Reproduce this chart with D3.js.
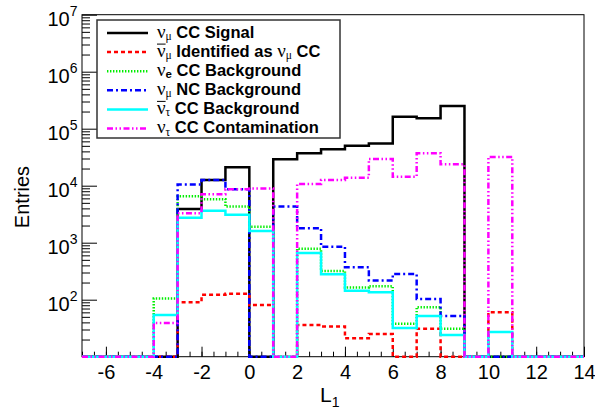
<!DOCTYPE html>
<html>
<head>
<meta charset="utf-8">
<script src="https://cdn.jsdelivr.net/npm/d3@7"></script>
<style>
  body { margin: 0; background: #fff; }
  svg { display: block; }
  text { font-family: "Liberation Sans", Arial, Helvetica, sans-serif; fill: #000; }
</style>
</head>
<body>
<svg id="chart" width="595" height="408"></svg>
<script>
// Histogram binning: 21 bins of width 1 covering L1 in [-7, 14]
const binEdges = d3.range(-7, 15, 1);

// Entries per bin (bins -7..-6, -6..-5, ..., 13..14)
const numuCCSignal   = [0, 0, 0, 0, 3900, 12600, 21000, 0, 29000, 37000, 43500, 50000, 55000, 162000, 153000, 250000, 0, 0, 0, 0, 0];
const numubarAsNumu  = [0, 0, 0, 0, 90, 122, 127, 81, 0, 36, 34, 21, 25, 0, 31, 0, 0, 60, 0, 0, 0];
const nueCCBkg       = [0, 0, 0, 105, 6500, 5800, 4300, 1900, 0, 780, 320, 163, 172, 38, 74, 31, 0, 0, 0, 0, 0];
const numuNCBkg      = [0, 0, 0, 0, 10500, 12600, 8700, 0, 4300, 1800, 850, 370, 218, 283, 103, 52, 0, 0, 0, 0, 0];
const nutaubarCCBkg  = [0, 0, 0, 54, 2750, 3650, 3100, 1600, 0, 660, 280, 144, 135, 32, 52, 24, 0, 27, 0, 0, 0];
const nutauCCContam  = [0, 0, 0, 39, 3300, 7100, 8700, 8900, 0, 10700, 12600, 13800, 29500, 14400, 37000, 23700, 0, 32000, 0, 0, 0];

// Axis ticks
const xMajorTicks = d3.range(-6, 14.01, 2);
const xMinorTicks = d3.range(-7, 14.01, 0.5);
const yDecades = [1e1, 1e2, 1e3, 1e4, 1e5, 1e6, 1e7];
const yLabelExponents = [2, 3, 4, 5, 6, 7];

// Legend labels: neutrino (bar or not), flavour subscript, description
const legendLabels = [
  { bar: false, sub: "\u03bc", text: " CC Signal" },
  { bar: true,  sub: "\u03bc", text: " Identified as ", tail: true },
  { bar: false, sub: "e",      text: " CC Background", latinSub: true },
  { bar: false, sub: "\u03bc", text: " NC Background" },
  { bar: true,  sub: "\u03c4", text: " CC Background" },
  { bar: false, sub: "\u03c4", text: " CC Contamination" }
];

const seriesValues = [numuCCSignal, numubarAsNumu, nueCCBkg, numuNCBkg, nutaubarCCBkg, nutauCCContam];
const seriesColors = ["#000000", "#ff0000", "#00ee00", "#0000ff", "#00ffff", "#ff00ff"];
const seriesDash   = [null, "4,3", "1.4,1.6", "6,3,2,3", null, "6,2.5,1.5,2.5,1.5,2.5"];

const svg = d3.select("#chart");
const padL = 82, padR = 584, padT = 14.7, padB = 356.7;

const x = d3.scaleLinear().domain([-7, 14]).range([padL, padR]);
const yMin = 10, yMax = 1e7;
const y = d3.scaleLog().domain([yMin, yMax]).range([padB, padT]);
const yv = v => y(Math.max(v, yMin));

// Frame
svg.append("rect")
  .attr("x", padL).attr("y", padT)
  .attr("width", padR - padL).attr("height", padB - padT)
  .attr("fill", "none").attr("stroke", "#000").attr("stroke-width", 1);

// X axis: minor and major ticks point inward
const xMinorAxis = d3.axisBottom(x).tickValues(xMinorTicks).tickSizeInner(-5).tickSizeOuter(0).tickFormat("");
const xMajorAxis = d3.axisBottom(x).tickValues(xMajorTicks).tickSizeInner(-10).tickSizeOuter(0).tickPadding(14)
  .tickFormat(d3.format("d"));
const gxMinor = svg.append("g").attr("transform", `translate(0,${padB})`).call(xMinorAxis);
const gxMajor = svg.append("g").attr("transform", `translate(0,${padB})`).call(xMajorAxis);
[gxMinor, gxMajor].forEach(g => {
  g.select(".domain").remove();
  g.selectAll(".tick line").attr("stroke", "#000").attr("stroke-width", 1);
});
gxMajor.selectAll(".tick text")
  .attr("font-size", 20).attr("font-family", "Liberation Sans, Arial, sans-serif")
  .attr("fill", "#000").attr("dy", null).attr("y", 22.8)
  .text(d => d < 0 ? "-" + Math.abs(d) : d);

// Y axis: log ticks, 2..9 per decade as minors
const yMinor = [];
yDecades.slice(0, -1).forEach(dec => { for (let m = 2; m <= 9; m++) yMinor.push(dec * m); });
const yMinorAxis = d3.axisLeft(y).tickValues(yMinor).tickSizeInner(-8).tickSizeOuter(0).tickFormat("");
const yMajorAxis = d3.axisLeft(y).tickValues(yDecades).tickSizeInner(-15).tickSizeOuter(0).tickFormat("");
const gyMinor = svg.append("g").attr("transform", `translate(${padL},0)`).call(yMinorAxis);
const gyMajor = svg.append("g").attr("transform", `translate(${padL},0)`).call(yMajorAxis);
[gyMinor, gyMajor].forEach(g => {
  g.select(".domain").remove();
  g.selectAll(".tick line").attr("stroke", "#000").attr("stroke-width", 1);
});

// Histograms drawn as step outlines, over the axes
const step = d3.line()
  .x(d => x(d[0]))
  .y(d => yv(d[1]))
  .curve(d3.curveStepAfter);

const plot = svg.append("g");
seriesValues.forEach((vals, i) => {
  const pts = vals.map((v, k) => [binEdges[k], v]);
  pts.push([binEdges[vals.length], vals[vals.length - 1]]);
  plot.append("path")
    .attr("d", step(pts))
    .attr("fill", "none")
    .attr("stroke", seriesColors[i])
    .attr("stroke-width", 2.5)
    .attr("stroke-dasharray", seriesDash[i])
    .attr("stroke-linejoin", "miter");
});

// Power-of-ten labels
const yLab = svg.append("g");
yLabelExponents.forEach(e => {
  const t = yLab.append("text")
    .attr("x", 77.5).attr("y", y(Math.pow(10, e)) + 11)
    .attr("text-anchor", "end").attr("font-size", 20);
  t.append("tspan").text("10");
  t.append("tspan").attr("font-size", 14).attr("dy", -9.5).text(e);
});

// Axis titles
svg.append("text")
  .attr("transform", "translate(28.5,197) rotate(-90)")
  .attr("text-anchor", "middle").attr("font-size", 20).text("Entries");

const xt = svg.append("text").attr("x", 320).attr("y", 401.5).attr("font-size", 21);
xt.append("tspan").text("L");
xt.append("tspan").attr("font-size", 14).attr("dy", 5).text("1");

// Legend box
const lg = svg.append("g");
lg.append("rect")
  .attr("x", 97).attr("y", 20).attr("width", 243).attr("height", 118)
  .attr("fill", "#fff").attr("stroke", "#333").attr("stroke-width", 1.5);

legendLabels.forEach((L, i) => {
  const base = 37.5 + i * 19.1;
  lg.append("line")
    .attr("x1", 107).attr("x2", 148).attr("y1", base - 4.5).attr("y2", base - 4.5)
    .attr("stroke", seriesColors[i]).attr("stroke-width", 2.5)
    .attr("stroke-dasharray", seriesDash[i]);

  const t = lg.append("text").attr("x", 157).attr("y", base).attr("font-size", 16.5);
  const nu = t.append("tspan")
    .attr("font-family", "Liberation Serif, Times New Roman, serif")
    .attr("font-size", 19).text("\u03bd");
  t.append("tspan")
    .attr("font-family", L.latinSub ? "Liberation Sans, Arial, sans-serif" : "Liberation Serif, serif")
    .attr("font-weight", L.latinSub ? "bold" : "normal")
    .attr("font-size", 11.5).attr("dy", 2.5).text(L.sub);
  t.append("tspan").attr("font-weight", "bold").attr("dy", -2.5).text(L.text);
  if (L.tail) {
    t.append("tspan")
      .attr("font-family", "Liberation Serif, Times New Roman, serif")
      .attr("font-size", 19).text("\u03bd");
    t.append("tspan")
      .attr("font-family", "Liberation Serif, serif")
      .attr("font-size", 11.5).attr("dy", 2.5).text("\u03bc");
    t.append("tspan").attr("font-weight", "bold").attr("dy", -2.5).text(" CC");
  }
  if (L.bar) {
    const w = nu.node().getComputedTextLength();
    lg.append("line")
      .attr("x1", 157).attr("x2", 157 + w)
      .attr("y1", base - 12.5).attr("y2", base - 12.5)
      .attr("stroke", "#000").attr("stroke-width", 1);
  }
});
</script>
</body>
</html>
